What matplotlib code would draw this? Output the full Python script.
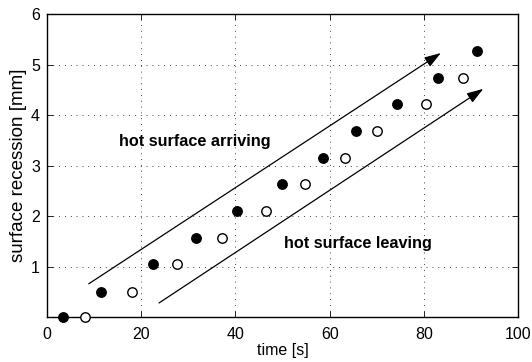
import matplotlib
matplotlib.use("Agg")
import matplotlib.pyplot as plt

plt.rcParams['font.family'] = ['Liberation Sans', 'DejaVu Sans']

arriving_t = [3.5, 11.5, 22.6, 31.6, 40.3, 50.0, 58.7, 65.5, 74.2, 82.9, 91.2]
arriving_r = [0.0, 0.50, 1.05, 1.57, 2.10, 2.63, 3.16, 3.69, 4.22, 4.74, 5.27]
leaving_t = [8.2, 18.1, 27.7, 37.2, 46.5, 54.8, 63.2, 70.1, 80.4, 88.4]
leaving_r = [0.0, 0.50, 1.05, 1.57, 2.10, 2.63, 3.16, 3.69, 4.22, 4.74]

arrow_upper = [(8.9, 0.66), (83.6, 5.23)]
arrow_lower = [(23.8, 0.28), (92.6, 4.52)]

xticks = [0, 20, 40, 60, 80, 100]
yticks = [1, 2, 3, 4, 5, 6]

fig = plt.figure(figsize=(5.32, 3.62), dpi=100)
ax = fig.add_axes([0.088, 0.124, 0.886, 0.837])

ax.plot(arriving_t, arriving_r, 'o', color='black', markersize=6.8, clip_on=False, zorder=5)
ax.plot(leaving_t, leaving_r, 'o', markerfacecolor='white', markeredgecolor='black',
        markeredgewidth=1.0, markersize=6.8, clip_on=False, zorder=5)

for (s, e) in (arrow_upper, arrow_lower):
    ax.annotate('', xy=e, xytext=s,
                arrowprops=dict(arrowstyle='-|>,head_length=1.0,head_width=0.33',
                                color='black', lw=0.9, shrinkA=0, shrinkB=0))

ax.text(31.3, 3.48, 'hot surface arriving', fontsize=11.7, fontweight='bold',
        ha='center', va='center')
ax.text(66.0, 1.46, 'hot surface leaving', fontsize=11.7, fontweight='bold',
        ha='center', va='center')

ax.set_xlim(0, 100)
ax.set_ylim(0, 6)
ax.set_xticks(xticks)
ax.set_yticks(yticks)
ax.set_xticklabels([str(v) for v in xticks])
ax.set_yticklabels([str(v) for v in yticks])
ax.tick_params(direction='in', length=4, width=0.6, labelsize=11.5, top=True, right=True)
ax.tick_params(axis='x', pad=7)
ax.tick_params(axis='y', pad=5)
ax.grid(True, linestyle=(0, (1, 6)), color='black', linewidth=0.6)
for sp in ax.spines.values():
    sp.set_linewidth(1.0)

ax.set_xlabel('time [s]', fontsize=11.5, labelpad=1)
ax.set_ylabel('surface recession [mm]', fontsize=13.5, labelpad=3)

fig.savefig('out.png', dpi=100)
